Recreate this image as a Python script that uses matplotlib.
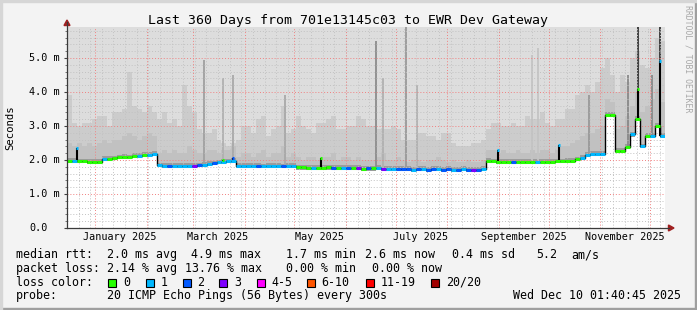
import numpy as np
import matplotlib.pyplot as plt
from matplotlib.patches import Polygon, Rectangle
from matplotlib.lines import Line2D

plt.rcParams['font.family'] = ['DejaVu Sans Mono']

# median rtt (ms), one value per 3 day step, 120 steps = 360 days
median = [1.97, 1.97, 1.96, 1.96, 1.95, 1.95, 1.95,
          2.03, 2.04, 2.05, 2.08, 2.09, 2.08, 2.12, 2.13, 2.14, 2.16, 2.17,
          1.84, 1.83, 1.82, 1.82, 1.83, 1.82, 1.83, 1.82, 1.84, 1.85, 1.88, 1.90, 1.93, 1.95, 1.96, 1.98,
          1.82, 1.82, 1.83, 1.82, 1.82, 1.81, 1.82, 1.82, 1.82, 1.81, 1.83, 1.82,
          1.78, 1.78, 1.77, 1.77, 1.77, 1.77, 1.78, 1.77, 1.77, 1.77, 1.76, 1.76, 1.76, 1.74, 1.75,
          1.75, 1.76, 1.74, 1.73, 1.73, 1.74, 1.73, 1.73, 1.72, 1.73, 1.73, 1.72, 1.73, 1.73, 1.72,
          1.73, 1.72, 1.72, 1.73, 1.72, 1.72, 1.72, 1.73,
          1.97, 1.96, 1.95, 1.95, 1.95, 1.94, 1.95, 1.95, 1.95, 1.94, 1.95, 1.95, 1.95, 1.95, 1.96,
          1.96, 1.97, 1.98, 2.02, 2.06,
          2.15, 2.18, 2.18, 2.19,
          3.32, 3.33,
          2.26, 2.27, 2.38, 2.75, 3.2, 2.4, 2.7, 2.7, 3.0, 2.7]

# loss class per step (index into loss_colors)
loss = ("010000010000001011"
        "1121111321121111"
        "111121111211"
        "000100020120302"
        "01311222121221221212321"
        "00000200001000000001"
        "1111"
        "00"
        "0001010101")

# smoke: top of the darker band and of the mid grey band (ms)
dark_top = [2.5, 2.4, 2.5, 2.4, 2.5, 2.4, 2.5, 2.6, 2.5, 2.6, 2.6, 2.7, 2.8, 2.7, 2.6, 2.7, 2.8, 2.7,
            2.2, 2.3, 2.2, 2.3, 2.2, 2.2, 2.4, 2.3, 2.2, 2.2, 2.3, 2.3, 2.2, 2.3, 2.3, 2.4,
            2.1, 2.2, 2.2, 2.1, 2.2, 2.3, 2.1, 2.2, 2.2, 2.4, 2.1, 2.2,
            2.1, 2.0, 2.1, 2.1, 2.0, 2.1, 2.1, 2.2, 2.0, 2.1, 2.1, 2.0, 2.1, 2.0, 2.0,
            2.0, 2.1, 2.2, 2.0, 2.0, 2.1, 2.0, 1.95, 2.0, 2.0, 1.95, 2.0, 2.0, 2.1, 2.0,
            1.95, 2.0, 1.95, 1.95, 2.0, 1.95, 1.95, 2.0,
            2.3, 2.3, 2.2, 2.3, 2.2, 2.2, 2.3, 2.2, 2.2, 2.3, 2.2, 2.3, 2.3, 2.2, 2.3,
            2.4, 2.4, 2.5, 2.6, 2.7,
            2.8, 2.8, 2.9, 3.0,
            3.8, 3.7,
            2.9, 3.0, 3.3, 3.6, 4.0, 3.4, 3.6, 3.8, 4.1, 3.7]
mid_top = [3.9, 3.1, 3.0, 3.1, 3.1, 3.2, 3.3, 3.3, 3.0, 3.4, 3.4, 3.5, 4.6, 3.6, 3.5,
           3.4, 3.6, 3.4, 3.2, 3.4, 3.1, 3.2, 3.0, 4.2, 3.6, 3.4, 2.9, 2.8, 2.8, 2.9,
           2.6, 2.5, 2.4, 2.5, 2.6, 3.0, 3.0, 2.8, 3.2, 3.3, 2.7, 2.9, 3.0, 3.6, 2.8,
           2.9, 3.3, 3.0, 2.9, 2.8, 3.1, 3.1, 3.2, 3.3, 2.9, 2.9, 3.0, 3.0, 3.3, 3.2, 3.0,
           3.0, 2.9, 2.9, 2.9, 3.0, 2.9, 2.6, 2.6, 2.6, 2.8, 2.8, 2.7, 2.7, 2.6, 2.8,
           2.8, 2.5, 2.4, 2.4, 2.4, 2.5, 2.5, 2.6, 2.9, 3.1, 3.1, 3.0, 3.0, 3.1,
           3.0, 3.0, 3.3, 3.2, 3.2, 3.4, 3.1, 3.0, 3.2, 3.2, 3.5, 3.5, 3.9, 4.0, 4.2,
           4.0, 4.3, 4.7, 5.0, 4.5, 4.0, 4.5, 4.3, 5.0, 5.2, 4.8, 4.7, 5.0, 5.6, 5.5]

# single tall smoke columns (day, top in ms)
spike_day = [82.5, 93.9, 99.9, 131.2, 186.0, 190.2, 204.1, 210.7, 279.9, 283.5, 314.3, 337.8, 343.8, 352.2, 357.0]
spike_top = [4.95, 4.4, 4.5, 3.9, 5.5, 4.4, 5.95, 4.2, 5.1, 5.3, 3.9, 4.5, 5.95, 4.5, 5.95]
spike_grey = ['#a0a0a0', '#b0b0b0', '#a8a8a8', '#a8a8a8', '#8c8c8c', '#b0b0b0', '#999999', '#b0b0b0',
              '#c4c4c4', '#c4c4c4', '#999999', '#888888', '#333333', '#888888', '#333333']

# short median excursions
jump_day = [6.0, 93.9, 99.9, 152.8, 259.3, 296.0, 343.8, 357.0]
jump_val = [2.35, 2.0, 2.05, 2.07, 2.3, 2.44, 4.1, 4.9]
jump_loss = "10201101"

loss_names = ["0", "1", "2", "3", "4-5", "6-10", "11-19", "20/20"]
loss_colors = ["#26ff00", "#00b8ff", "#0059ff", "#7e00ff", "#ff00ff", "#ff5500", "#ff0000", "#a10000"]

W, H = 697, 310
fig = plt.figure(figsize=(W / 100, H / 100), dpi=100, facecolor='#f3f3f3')


def fx(x):
    return x / W


def fy(y):
    return 1 - y / H


x0, x1, ytop, ybot = 67, 665, 27, 228
ymax = 5.91
ax = fig.add_axes([fx(x0), fy(ybot), (x1 - x0) / W, (ybot - ytop) / H])
ax.set_facecolor('white')
ax.set_xlim(0, 360)
ax.set_ylim(0, ymax)
for s in ax.spines.values():
    s.set_visible(False)

# smoke
edges = np.arange(len(median) + 1) * 3.0
med = np.array(median + [median[-1]])
lo = med - 0.06
ax.fill_between(edges, lo, 6.5, step='post', color='#dddddd', lw=0, zorder=1)
ax.fill_between(edges, lo, mid_top + [mid_top[-1]], step='post', color='#cccccc', lw=0, zorder=1)
ax.fill_between(edges, lo, dark_top + [dark_top[-1]], step='post', color='#c1c1c1', lw=0, zorder=1)
ax.fill_between(edges, lo, med + 0.08, step='post', color='#9c9c9c', lw=0, zorder=1)

med_arr = np.array(median)
base = med_arr[(np.array(spike_day) // 3).astype(int)]
ax.vlines(spike_day, base, spike_top, colors=spike_grey, lw=1.3, zorder=1.5)

# grid
start = np.datetime64('2024-12-15T01:40:45')


def day_of(d):
    return (np.datetime64(d) - start) / np.timedelta64(1, 'D')


for d in np.arange(day_of('2024-12-22'), 360, 7):
    ax.axvline(d, color='#c2c2c2', lw=0.7, ls=(0, (1, 2)), zorder=2)
for i in range(1, 30):
    if i % 5:
        ax.axhline(i * 0.2, color='#c2c2c2', lw=0.7, ls=(0, (1, 2)), zorder=2)
for m in range(1, 13):
    ax.axvline(day_of(f'2025-{m:02d}-01'), color='#f08080', lw=0.7, ls=(0, (1, 2)), zorder=2.1)
for v in range(1, 6):
    ax.axhline(v, color='#f08080', lw=0.7, ls=(0, (1, 2)), zorder=2.1)

# median line
ax.step(edges, med, where='post', color='black', lw=1.0, zorder=3)
jb = med_arr[(np.array(jump_day) // 3).astype(int)]
ax.vlines(jump_day, jb, jump_val, colors='black', lw=1.5, zorder=3)
for i, v in enumerate(median):
    ax.hlines(v, edges[i], edges[i + 1], color=loss_colors[int(loss[i])], lw=2.2, zorder=4)
for d, v, c in zip(jump_day, jump_val, jump_loss):
    ax.hlines(v, d - 0.6, d + 0.6, color=loss_colors[int(c)], lw=2.2, zorder=4)

# axes labels and ticks
months = ['January 2025', 'March 2025', 'May 2025', 'July 2025', 'September 2025', 'November 2025']
mid_month = [day_of(f'2025-{m:02d}-16') for m in (1, 3, 5, 7, 9, 11)]
ax.set_xticks(mid_month, months)
ax.tick_params(axis='x', length=0, pad=3, labelsize=7.3)
ax.set_yticks(range(6), [''] * 6)
ax.set_yticks(np.arange(1, 30) * 0.2, minor=True)
ax.tick_params(axis='y', which='major', length=2.5, width=0.8, color='#404040')
ax.tick_params(axis='y', which='minor', length=1.5, width=0.6, color='#606060')
for v in range(6):
    yp = ybot - v * (ybot - ytop) / ymax
    if v == 0:
        fig.text(fx(48), fy(yp), '0.0', ha='right', va='center', fontsize=7.3)
    else:
        fig.text(fx(60), fy(yp), f'{v}.0 m', ha='right', va='center', fontsize=7.3)

fig.add_artist(Line2D([fx(67), fx(67)], [fy(228), fy(22)], color='#3a3a3a', lw=0.9))
fig.add_artist(Line2D([fx(67), fx(669)], [fy(228), fy(228)], color='#3a3a3a', lw=0.9))
fig.add_artist(Polygon([(fx(64), fy(25.5)), (fx(70), fy(25.5)), (fx(67), fy(20))],
                       closed=True, transform=fig.transFigure, color='#a02020'))
fig.add_artist(Polygon([(fx(668.5), fy(225)), (fx(668.5), fy(231)), (fx(674), fy(228))],
                       closed=True, transform=fig.transFigure, color='#a02020'))

# frame
fig.add_artist(Rectangle((0, 0), 1, 2 / H, transform=fig.transFigure, color='#9f9f9f'))
fig.add_artist(Rectangle((1 - 2 / W, 0), 2 / W, 1, transform=fig.transFigure, color='#9f9f9f'))
fig.add_artist(Rectangle((0, 1 - 2 / H), 1, 2 / H, transform=fig.transFigure, color='#d6d6d6'))
fig.add_artist(Rectangle((0, 0), 2 / W, 1, transform=fig.transFigure, color='#d6d6d6'))

# texts
fig.text(fx(348), fy(24), 'Last 360 Days from 701e13145c03 to EWR Dev Gateway',
         ha='center', va='baseline', fontsize=9.5)
fig.text(fx(688), fy(59), 'RRDTOOL / TOBI OETIKER', rotation=270, ha='center', va='center',
         fontsize=5.9, color='#a8a8a8')
fig.text(fx(10.5), fy(128), 'Seconds', rotation=90, ha='center', va='center', fontsize=7.7)

row1 = [(16, "median rtt:"), (107, "2.0 ms avg"), (191.5, "4.9 ms max"), (286, "1.7 ms min"),
        (365, "2.6 ms now"), (451.5, "0.4 ms sd"), (536, "5.2"), (571.5, "am/s")]
row2 = [(16, "packet loss:"), (107, "2.14 % avg"), (185, "13.76 % max"), (286.5, "0.00 % min"),
        (372.5, "0.00 % now")]
row4 = [(16, "probe:"), (107, "20 ICMP Echo Pings (56 Bytes) every 300s"), (513, "Wed Dec 10 01:40:45 2025")]
for yb, row in ((258.3, row1), (271.8, row2), (299.3, row4)):
    for xp, t in row:
        fig.text(fx(xp), fy(yb), t, ha='left', va='baseline', fontsize=8.4)

fig.text(fx(16), fy(285.6), "loss color:", ha='left', va='baseline', fontsize=8.4)
sq_x = [108, 145.5, 182.5, 219, 256.5, 306.5, 365.5, 431]
for xp, name, c in zip(sq_x, loss_names, loss_colors):
    fig.add_artist(Rectangle((fx(xp), fy(286.5)), 8 / W, 8 / H, transform=fig.transFigure,
                             facecolor=c, edgecolor='black', lw=0.8))
    fig.text(fx(xp + 15), fy(285.6), name, ha='left', va='baseline', fontsize=8.4)

fig.savefig('out.png', dpi=100, facecolor=fig.get_facecolor())
